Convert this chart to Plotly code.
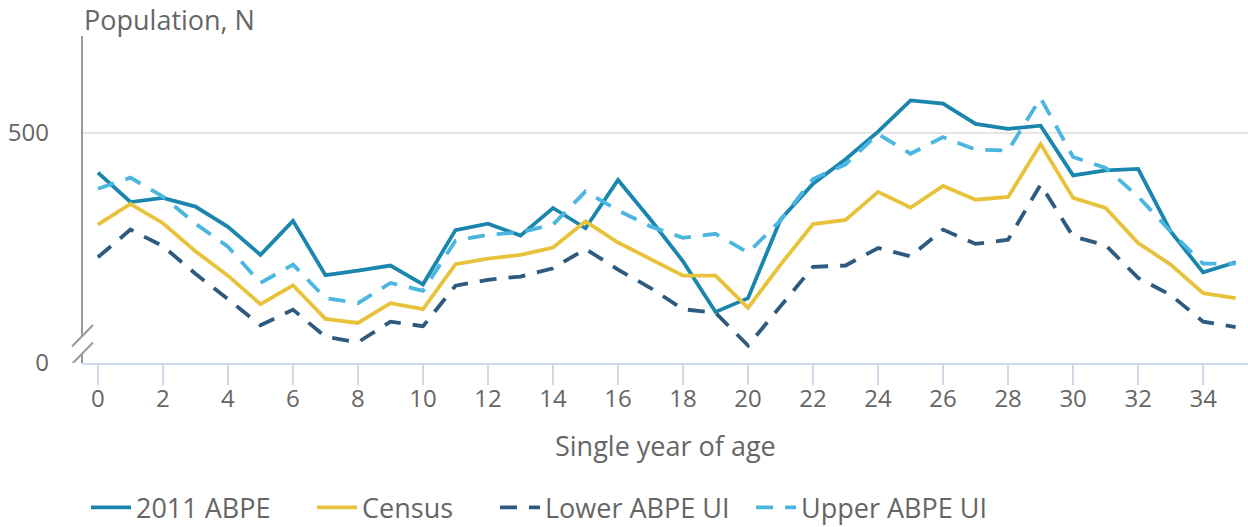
import plotly.graph_objects as go

ages = list(range(36))
abpe = [414, 350, 359, 340, 296, 235, 309, 191, 201, 212, 171, 289, 303, 277, 337, 293, 398, 312,
        221, 111, 141, 312, 390, 443, 503, 571, 564, 520, 509, 516, 408, 419, 422, 286, 197, 219]
census = [301, 346, 304, 243, 190, 128, 169, 96, 87, 130, 117, 215, 227, 235, 251, 308, 262, 226,
          190, 190, 120, 214, 302, 311, 372, 338, 385, 355, 361, 476, 359, 337, 261, 214, 152, 141]
lower_ui = [230, 290, 254, 194, 139, 82, 116, 57, 45, 90, 80, 168, 181, 188, 206, 248, 203, 163,
            117, 109, 38, 123, 209, 212, 250, 232, 290, 259, 268, 388, 275, 256, 185, 148, 90, 78]
upper_ui = [379, 403, 362, 303, 253, 174, 214, 141, 130, 174, 157, 266, 279, 284, 301, 373, 332, 297,
            272, 281, 240, 310, 400, 432, 498, 455, 491, 464, 462, 576, 448, 424, 362, 286, 216, 216]

x_ticks = list(range(0, 35, 2))
y_ticks = [0, 500]

FONT = "Open Sans"
TXT = "#666666"
DASH = "17px,12px"
LW = 3.8

fig = go.Figure()
fig.add_trace(go.Scatter(x=ages, y=abpe, name="2011 ABPE", mode="lines", legend="legend",
                         line=dict(color="#1a86ad", width=LW)))
fig.add_trace(go.Scatter(x=ages, y=census, name="Census", mode="lines", legend="legend2",
                         line=dict(color="#e8c23a", width=LW)))
fig.add_trace(go.Scatter(x=ages, y=lower_ui, name="Lower ABPE UI", mode="lines", legend="legend3",
                         line=dict(color="#2f5a80", width=LW, dash=DASH)))
fig.add_trace(go.Scatter(x=ages, y=upper_ui, name="Upper ABPE UI", mode="lines", legend="legend4",
                         line=dict(color="#4bb7e0", width=LW, dash=DASH)))

axis_grey = "#9a9a9a"
shapes = [
    dict(type="line", xref="paper", yref="y", xsizemode="pixel", ysizemode="pixel",
         xanchor=0, yanchor=0, x0=0, x1=0, y0=27, y1=327, line=dict(color=axis_grey, width=2)),
    dict(type="line", xref="paper", yref="y", xsizemode="pixel", ysizemode="pixel",
         xanchor=0, yanchor=0, x0=0, x1=0, y0=0, y1=10, line=dict(color=axis_grey, width=2)),
    dict(type="line", xref="paper", yref="y", xsizemode="pixel", ysizemode="pixel",
         xanchor=0, yanchor=0, x0=-10, x1=11, y0=16.5, y1=38, line=dict(color=axis_grey, width=2)),
    dict(type="line", xref="paper", yref="y", xsizemode="pixel", ysizemode="pixel",
         xanchor=0, yanchor=0, x0=-10, x1=11, y0=-1, y1=20.5, line=dict(color=axis_grey, width=2)),
]

def leg(xpos):
    return dict(orientation="h", x=xpos, xanchor="left", y=-0.443, yanchor="middle",
                font=dict(size=27, color=TXT, family=FONT), itemwidth=40,
                bgcolor="rgba(0,0,0,0)")

fig.update_layout(
    width=1248, height=527,
    margin=dict(l=82, r=0, t=36, b=164, autoexpand=False),
    paper_bgcolor="white", plot_bgcolor="white",
    font=dict(family=FONT, color=TXT, size=24),
    showlegend=True,
    legend=leg(0.0034), legend2=leg(0.1973), legend3=leg(0.3542), legend4=leg(0.5738),
    xaxis=dict(range=[-0.49, 35.38], tickvals=x_ticks, showgrid=False, zeroline=False,
               showline=True, linecolor="#d0d9ea", linewidth=2,
               ticks="outside", ticklen=20, tickwidth=2, tickcolor="#d0d9ea",
               ticklabelstandoff=-7, tickfont=dict(size=24, color=TXT)),
    yaxis=dict(range=[0, 711], tickvals=y_ticks, showgrid=True, gridcolor="#e6e6e6", gridwidth=2,
               zeroline=False, showline=False, ticks="", ticklabelstandoff=32,
               tickfont=dict(size=24, color=TXT)),
    shapes=shapes,
    annotations=[
        dict(text="Population, N", xref="paper", yref="paper", x=0, y=1, xanchor="left",
             yanchor="middle", yshift=17, xshift=0, showarrow=False, font=dict(size=27, color=TXT)),
        dict(text="Single year of age", xref="paper", yref="paper", x=0.5, y=0, xanchor="center",
             yanchor="middle", yshift=-82, showarrow=False, font=dict(size=27, color=TXT)),
    ],
)

fig.write_html("out.html", config={"displayModeBar": False},
               post_script="document.body.style.margin='0';document.body.style.overflow='hidden';")
